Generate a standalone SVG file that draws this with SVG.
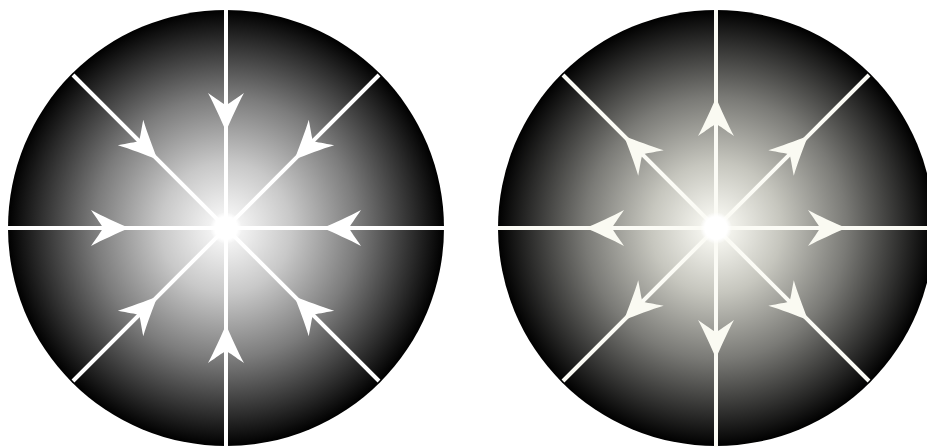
<svg xmlns="http://www.w3.org/2000/svg" xmlns:xlink="http://www.w3.org/1999/xlink" width="927" height="447" viewBox="0 0 927 447">
<style>
.ray{stroke:#fff;stroke-width:4;fill:none}
.rayR{stroke:#fbfbf5;stroke-width:4;fill:none}
.arr{fill:#fff}
.arrR{fill:#fafaf2}
</style>
<defs>
<radialGradient id="gL" cx="0" cy="0" r="218" gradientUnits="userSpaceOnUse">
<stop offset="0" stop-color="#ffffff"/>
<stop offset="0.06" stop-color="#f4f4f4"/>
<stop offset="0.3" stop-color="#c8c8c8"/>
<stop offset="0.6" stop-color="#7c7c7c"/>
<stop offset="0.86" stop-color="#2c2c2c"/>
<stop offset="1" stop-color="#000000"/>
</radialGradient>
<radialGradient id="gR" cx="0" cy="0" r="218" gradientUnits="userSpaceOnUse">
<stop offset="0" stop-color="#ffffff"/>
<stop offset="0.06" stop-color="#f4f4ee"/>
<stop offset="0.3" stop-color="#c6c6be"/>
<stop offset="0.6" stop-color="#7a7a76"/>
<stop offset="0.86" stop-color="#2b2b2a"/>
<stop offset="1" stop-color="#000000"/>
</radialGradient>
<radialGradient id="glow" cx="0" cy="0" r="16" gradientUnits="userSpaceOnUse">
<stop offset="0" stop-color="#fff" stop-opacity="1"/>
<stop offset="0.7" stop-color="#fff" stop-opacity="1"/>
<stop offset="1" stop-color="#fff" stop-opacity="0"/>
</radialGradient>
<path id="ah" d="M0,0 C-11,-5 -27,-12 -38,-18 C-32,-9 -28,-4 -26,0 C-28,4 -32,9 -38,18 C-27,12 -11,5 0,0 Z"/>
</defs>

<g id="left" transform="translate(226,228)">
<circle r="218" fill="url(#gL)"/>
<g id="left-rays" class="ray">
<line x1="0" y1="-218" x2="0" y2="219"/>
<line x1="-218" y1="0" x2="218" y2="0"/>
<line x1="-153" y1="-153" x2="153" y2="153"/>
<line x1="153" y1="-153" x2="-153" y2="153"/>
</g>
<g id="left-arrows" class="arr">
<use xlink:href="#ah" href="#ah" transform="rotate(0) translate(97,0) rotate(180)"/>
<use xlink:href="#ah" href="#ah" transform="rotate(45) translate(97,0) rotate(180)"/>
<use xlink:href="#ah" href="#ah" transform="rotate(90) translate(97,0) rotate(180)"/>
<use xlink:href="#ah" href="#ah" transform="rotate(135) translate(97,0) rotate(180)"/>
<use xlink:href="#ah" href="#ah" transform="rotate(180) translate(97,0) rotate(180)"/>
<use xlink:href="#ah" href="#ah" transform="rotate(225) translate(97,0) rotate(180)"/>
<use xlink:href="#ah" href="#ah" transform="rotate(270) translate(97,0) rotate(180)"/>
<use xlink:href="#ah" href="#ah" transform="rotate(315) translate(97,0) rotate(180)"/>
</g>
<circle id="left-center" r="16" fill="url(#glow)"/>
</g>

<g id="right" transform="translate(716,228)">
<circle r="218" fill="url(#gR)"/>
<g id="right-rays" class="rayR">
<line x1="0" y1="-218" x2="0" y2="219"/>
<line x1="-218" y1="0" x2="218" y2="0"/>
<line x1="-153" y1="-153" x2="153" y2="153"/>
<line x1="153" y1="-153" x2="-153" y2="153"/>
</g>
<g id="right-arrows" class="arrR">
<use xlink:href="#ah" href="#ah" transform="rotate(0) translate(130,0)"/>
<use xlink:href="#ah" href="#ah" transform="rotate(45) translate(130,0)"/>
<use xlink:href="#ah" href="#ah" transform="rotate(90) translate(130,0)"/>
<use xlink:href="#ah" href="#ah" transform="rotate(135) translate(130,0)"/>
<use xlink:href="#ah" href="#ah" transform="rotate(180) translate(130,0)"/>
<use xlink:href="#ah" href="#ah" transform="rotate(225) translate(130,0)"/>
<use xlink:href="#ah" href="#ah" transform="rotate(270) translate(130,0)"/>
<use xlink:href="#ah" href="#ah" transform="rotate(315) translate(130,0)"/>
</g>
<circle id="right-center" r="16" fill="url(#glow)"/>
</g>
</svg>
